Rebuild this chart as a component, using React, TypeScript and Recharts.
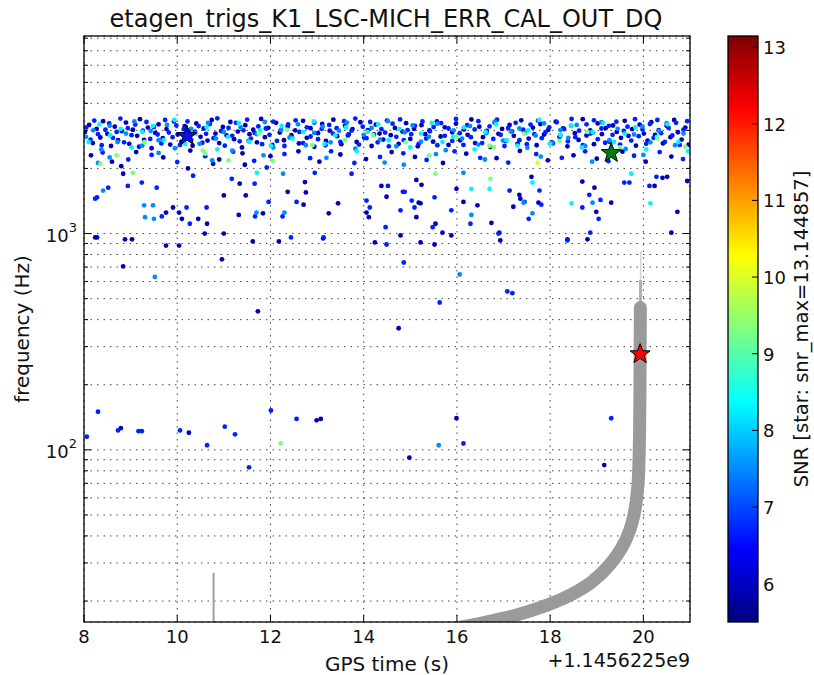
import {
  ComposedChart,
  Scatter,
  Line,
  XAxis,
  YAxis,
  CartesianGrid
} from 'recharts';

const title = 'etagen_trigs_K1_LSC-MICH_ERR_CAL_OUT_DQ';
const xTicks = [8, 10, 12, 14, 16, 18, 20];
const yTicks = [
  20, 30, 40, 50, 60, 70, 80, 90,
  100, 200, 300, 400, 500, 600, 700, 800, 900,
  1000, 2000, 3000, 4000, 5000, 6000, 7000, 8000
];
const yMajor = [100, 1000];
const cbarTicks = [6, 7, 8, 9, 10, 11, 12, 13];
const snrMin = 5.5;
const snrMax = 13.144857;

// snr of each colour group
const snrNavy = 5.9;
const snrBlue = 6.7;
const snrLight = 7.5;
const snrCyan = 8.3;
const snrGreen = 9.3;
const snrYellow = 10.0;

// [gps time offset (s), frequency (Hz)]
const navyPts: [number, number][] = [
  [8.02,2950],[8.11,3180],[8.19,2620],[8.27,3050],[8.35,2780],[8.41,3310],[8.5,2890],[8.58,2540],[8.66,3120],[8.73,2700],
  [8.81,2980],[8.9,3260],[8.97,2600],[9.05,3020],[9.14,2830],[9.2,3380],[9.29,2710],[9.37,3090],[9.45,2480],[9.53,2920],
  [9.6,3200],[9.69,2760],[9.77,3040],[9.85,2580],[9.93,3300],[10.01,2870],[10.09,2660],[10.16,3140],[10.25,2990],[10.33,2550],
  [10.41,3230],[10.5,2800],[10.57,3060],[10.65,2690],[10.74,3350],[10.82,2900],[10.9,2620],[10.98,3110],[11.06,2840],[11.14,3280],
  [11.22,2730],[11.3,2960],[11.39,2500],[11.46,3170],[11.55,2880],[11.63,3020],[11.71,2640],[11.8,3390],[11.88,2790],[11.95,3080],
  [12.04,2570],[12.12,3250],[12.2,2930],[12.29,2700],[12.37,3130],[12.45,2850],[12.53,3000],[12.61,2610],[12.7,3320],[12.78,2770],
  [12.86,3070],[12.94,2520],[13.02,2910],[13.11,3210],[13.19,2680],[13.27,2990],[13.35,3360],[13.43,2820],[13.52,2590],[13.6,3150],
  [13.68,2870],[13.76,3040],[13.85,2650],[13.93,3270],[14.01,2780],[14.09,3010],[14.17,2540],[14.26,3190],[14.34,2900],[14.42,2720],
  [14.5,3330],[14.58,2850],[14.67,3080],[14.75,2600],[14.83,2960],[14.91,3240],[15.0,2740],[15.08,3050],[15.16,2530],[15.24,3170],
  [15.32,2880],[15.41,3000],[15.49,2660],[15.57,3300],[15.65,2810],[15.74,3100],[15.82,2570],[15.9,2940],[15.98,3220],[16.07,2700],
  [16.15,3030],[16.23,2860],[16.31,3370],[16.39,2620],[16.48,3120],[16.56,2790],[16.64,2980],[16.72,2510],[16.81,3260],[16.89,2890],
  [16.97,3050],[17.05,2680],[17.13,3180],[17.22,2830],[17.3,2600],[17.38,3340],[17.46,2920],[17.54,2750],[17.63,3090],[17.71,2560],
  [17.79,3210],[17.87,2870],[17.96,3020],[18.04,2640],[18.12,3290],[18.2,2800],[18.28,3060],[18.37,2530],[18.45,3150],[18.53,2910],
  [18.61,2710],[18.7,3380],[18.78,2840],[18.86,3000],[18.94,2590],[19.02,3230],[19.11,2880],[19.19,3070],[19.27,2660],[19.35,3160],
  [19.43,2950],[19.52,2770],[19.6,3320],[19.68,2830],[19.76,3040],[19.84,2550],[19.92,3190],[20.01,2900],[20.09,2690],[20.17,3270],
  [20.25,2860],[20.33,3010],[20.42,2610],[20.5,3150],[20.58,2790],[20.66,3350],[20.74,2940],[20.82,2720],[20.9,3090],[20.97,2580],
  [8.15,2300],[8.6,2150],[9.12,2380],[9.7,2250],[10.28,2420],[10.9,2200],[11.4,2350],[12.0,2280],[12.6,2400],[13.05,2150],
  [13.5,2320],[14.05,2210],[14.6,2380],[15.1,2260],[15.7,2120],[16.2,2340],[16.85,2230],[17.35,2410],[17.95,2180],[18.5,2300],
  [19.0,2220],[19.55,2390],[20.05,2150],[20.6,2270],
  [8.8,2050],[8.84,1890],[10.04,1250],[10.23,2000],[10.45,1170],[10.64,1110],[10.77,2100],[11.0,1000],[11.34,1700],[11.45,2080],
  [11.47,1500],[11.84,1240],[12.37,1560],[12.74,1730],[12.76,1550],[13.13,950],[13.45,1380],[14.06,1250],[14.38,1660],[15.13,1190],
  [8.24,960],[8.88,940],[9.76,1250],[9.91,1320],[9.76,880],[10.1,1170],[10.59,1000],[11.0,1500],[11.32,1220],[11.62,920],
  [12.71,1360],[13.25,1240],[14.11,1190],[14.24,910],[14.49,1480],[14.79,980],[15.18,1390],[15.22,1380],[15.54,1110],[15.69,1010],
  [16.14,1400],[16.44,1350],[16.93,930],[17.21,1330],[17.34,1510],[17.36,1450],[17.75,1390],[18.99,1260],[15.13,1770],[15.24,1680],
  [15.99,1610],[16.74,1120],[16.91,1010],[17.6,1830],[18.37,940],[18.69,1740],[18.95,1630],[19.31,1390],[20.24,1660],[20.41,1810],
  [20.51,1830],[20.73,1260],[20.6,1010],[20.94,1750],[18.8,940],
  [8.28,960],[9.03,940],[8.84,705],[10.04,880],[10.96,760],[11.73,437],[12.18,920],[14.75,365],[8.79,126],[10.25,120],
  [12.99,137],[13.08,139],[14.98,92],[15.22,910],[15.52,890],[15.88,980],[15.99,140],[19.16,85]
];

const bluePts: [number, number][] = [
  [8.05,3100],[8.14,2720],[8.22,3330],[8.3,2880],[8.38,2560],[8.46,3020],[8.54,3230],[8.62,2770],[8.7,2950],[8.78,3400],
  [8.86,2640],[8.94,3070],[9.02,2850],[9.1,3190],[9.18,2520],[9.26,2990],[9.34,3280],[9.42,2740],[9.5,3110],[9.58,2870],
  [9.66,2610],[9.74,3350],[9.82,2930],[9.9,2790],[9.98,3160],[10.06,2570],[10.14,3040],[10.22,3300],[10.3,2710],[10.38,2960],
  [10.46,3140],[10.54,2630],[10.62,2890],[10.7,3210],[10.78,2760],[10.86,3410],[10.94,2980],[11.02,2550],[11.1,3080],[11.18,2830],
  [11.26,3250],[11.34,2670],[11.42,3000],[11.5,3360],[11.58,2750],[11.66,2920],[11.74,3130],[11.82,2590],[11.9,3060],[11.98,2860],
  [12.06,3290],[12.14,2680],[12.22,3010],[12.3,2540],[12.38,3200],[12.46,2780],[12.54,3340],[12.62,2950],[12.7,2620],[12.78,3100],
  [12.86,2810],[12.94,3260],[13.02,2730],[13.1,3050],[13.18,2560],[13.26,3180],[13.34,2900],[13.42,3070],[13.5,2650],[13.58,3310],
  [13.66,2840],[13.74,2990],[13.82,3400],[13.9,2580],[13.98,3120],[14.06,2760],[14.14,3280],[14.22,2870],[14.3,2640],[14.38,3040],
  [14.46,2930],[14.54,2530],[14.62,3220],[14.7,2800],[14.78,3370],[14.86,2700],[14.94,3010],[15.02,2880],[15.1,3150],[15.18,2600],
  [15.26,3300],[15.34,2750],[15.42,2970],[15.5,3110],[15.58,2560],[15.66,3240],[15.74,2830],[15.82,3060],[15.9,2680],[15.98,3390],
  [16.06,2910],[16.14,2570],[16.22,3170],[16.3,2790],[16.38,3030],[16.46,3310],[16.54,2620],[16.62,2950],[16.7,3130],[16.78,2740],
  [16.86,3360],[16.94,2860],[17.02,2540],[17.1,3080],[17.18,2970],[17.26,3250],[17.34,2700],[17.42,3020],[17.5,2590],[17.58,3190],
  [17.66,2880],[17.74,3330],[17.82,2760],[17.9,2940],[17.98,3100],[18.06,2610],[18.14,3270],[18.22,2850],[18.3,3040],[18.38,2670],
  [18.46,3390],[18.54,2790],[18.62,2990],[18.7,2560],[18.78,3200],[18.86,2900],[18.94,3340],[19.02,2730],[19.1,3060],[19.18,2630],
  [19.26,3150],[19.34,2860],[19.42,3290],[19.5,2580],[19.58,2980],[19.66,3120],[19.74,2690],[19.82,3380],[19.9,2820],[19.98,3030],
  [20.06,2600],[20.14,3210],[20.22,2770],[20.3,3350],[20.38,2910],[20.46,2650],[20.54,3080],[20.62,2840],[20.7,3250],[20.78,2570],
  [20.86,3020],[20.94,3310],
  [8.4,2370],[8.95,2200],[9.45,2310],[10.0,2140],[10.6,2280],[11.2,2390],[11.65,2170],[12.3,2330],[12.85,2230],[13.3,2400],
  [13.8,2120],[14.35,2260],[14.85,2350],[15.35,2190],[15.95,2400],[16.5,2240],[17.1,2130],[17.7,2330],[18.25,2240],[18.75,2400],
  [19.25,2160],[19.8,2290],[20.35,2380],[20.85,2210],
  [8.28,1470],[8.52,1630],[8.94,1660],[9.24,1720],[9.56,1630],[9.67,1200],[10.2,1320],[10.34,1850],[10.63,1320],[11.17,1790],
  [11.66,1700],[11.92,2020],[12.26,1200],[12.56,1400],[12.95,1910],[13.74,1890],[14.52,1660],[14.84,1560],[15.09,1320],[8.24,1450],
  [10.27,1110],[11.67,1200],[11.96,1400],[12.44,960],[14.06,1420],[14.13,1320],[14.47,1070],[14.49,890],[14.79,1280],[16.29,1110],
  [17.54,1170],[18.86,1010],[14.88,1560],[15.03,1420],[15.52,1470],[15.48,1070],[15.88,1280],[17.13,1580],[17.45,1400],[17.77,1580],
  [17.81,1360],[18.69,1320],[18.84,1510],[19.08,1430],[19.04,1170],[19.59,1720],[19.7,1720],[20.13,1660],[20.28,1830],
  [13.14,960],[14.86,735],[16.89,1000],[18.37,930],[15.63,480],[17.08,540],[17.19,530],[16.14,107],[19.31,140],[8.3,150],
  [8.06,115],[8.73,123],[9.17,122],[9.24,122],[10.06,123],[10.64,105],[11.02,128],[11.24,118],[11.54,83],[12.01,152],
  [12.56,139]
];

const lightPts: [number, number][] = [
  [8.04,2800],[8.2,3000],[8.37,2450],[8.55,3150],[8.72,2650],[8.9,2900],[9.08,3300],[9.25,2550],[9.43,2980],[9.6,2700],
  [9.78,3180],[9.95,2480],[10.13,2850],[10.3,3050],[10.48,2600],[10.66,3250],[10.83,2750],[11.0,2950],[11.18,2420],[11.36,3100],
  [11.53,2680],[11.71,2880],[11.88,3280],[12.06,2500],[12.23,3020],[12.41,2780],[12.59,3200],[12.76,2560],[12.94,2920],[13.12,3120],
  [13.29,2640],[13.47,2990],[13.64,3260],[13.82,2470],[14.0,2860],[14.17,3080],[14.35,2720],[14.52,3310],[14.7,2530],[14.88,2940],
  [15.05,3160],[15.23,2660],[15.4,2800],[15.58,3220],[15.76,2430],[15.93,3000],[16.11,2750],[16.28,3140],[16.46,2580],[16.63,2910],
  [16.81,3290],[16.99,2690],[17.16,2960],[17.34,3060],[17.51,2490],[17.69,2840],[17.87,3230],[18.04,2620],[18.22,3010],[18.39,2770],
  [18.57,3180],[18.75,2540],[18.92,2930],[19.1,3270],[19.27,2700],[19.45,3050],[19.62,2460],[19.8,2870],[19.98,3130],[20.15,2640],
  [20.33,2980],[20.5,3240],[20.68,2560],[20.86,2900],
  [8.55,2250],[9.6,2360],[10.75,2180],[11.85,2300],[13.2,2240],[14.45,2130],[15.55,2330],[16.6,2200],[17.8,2270],[18.9,2150],
  [20.0,2310],
  [8.3,2120],[8.41,1580],[9.48,1350],[9.5,1170],[12.27,1890],[12.3,1250],[9.29,1350],[9.31,1190],[11.7,1250],[16.31,1220],
  [17.43,1390],[14.86,2080],[16.14,1910],[17.62,1240],[18.91,1390],[9.52,630],[16.06,647],[15.61,105]
];

const cyanPts: [number, number][] = [
  [8.1,2650],[8.33,3200],[8.56,2850],[8.79,3050],[9.02,2500],[9.25,2950],[9.48,3150],[9.71,2700],[9.94,3350],[10.17,2600],
  [10.4,2900],[10.63,3100],[10.86,2450],[11.09,2800],[11.32,3250],[11.55,2650],[11.78,3000],[12.01,2550],[12.24,3150],[12.47,2750],
  [12.7,2950],[12.93,3300],[13.16,2600],[13.39,2850],[13.62,3100],[13.85,2400],[14.08,2950],[14.31,3200],[14.54,2700],[14.77,3050],
  [15.0,2500],[15.23,2900],[15.46,3250],[15.69,2650],[15.92,2800],[16.15,3100],[16.38,2450],[16.61,2950],[16.84,3200],[17.07,2700],
  [17.3,2550],[17.53,3000],[17.76,3350],[17.99,2600],[18.22,2850],[18.45,3150],[18.68,2500],[18.91,2950],[19.14,3250],[19.37,2650],
  [19.6,2900],[19.83,3100],[20.06,2450],[20.29,2800],[20.52,3200],[20.75,2650],[20.96,2400],
  [11.71,1910],[18.46,1380],[16.31,1610],[16.7,1610],[17.62,1720],[19.74,1890],[20.15,1380]
];

const greenPts: [number, number][] = [
  [8.35,2100],[8.7,2300],[9.3,2650],[10.55,2420],[11.1,2180],[11.75,2900],[12.35,3020],[12.9,2560],[13.6,2700],[14.2,2850],
  [14.9,2640],[15.4,2300],[16.0,2800],[16.7,2550],[17.45,2900],[18.2,2680],[18.8,2950],[19.5,2500],[20.3,2750],[20.9,2520],
  [9.05,1910],[12.05,2170],[15.54,1890],[16.72,1790],[10.6,2340],[16.79,2500],[12.22,107]
];

const yellowPts: [number, number][] = [[17.73, 2120]];

// loudest trigger per channel group
const starBlue = [{ t: 10.21, f: 2830 }];
const starGreen = [{ t: 19.31, f: 2360 }];
const starRed = [{ t: 19.93, f: 277 }];

// injected chirp track
const chirpPts: [number, number][] = [
  [15.6,14.5],[16.2,15.3],[16.8,16.3],[17.3,17.3],[17.8,18.7],[18.2,20.2],[18.6,22.3],[18.9,24.6],[19.15,27.5],[19.35,30.8],
  [19.52,34.8],[19.65,39.5],[19.75,45.5],[19.82,53],[19.87,64],[19.9,80],[19.915,110],[19.925,170],[19.93,280],[19.935,455]
];
const chirpTail: [number, number][] = [[19.935, 455], [19.94, 610]];
const chirpTip: [number, number][] = [[19.94, 610], [19.945, 830]];
const glitchLine: [number, number][] = [[10.78, 15], [10.78, 27]];

const toRows = (arr: [number, number][]) => arr.map(([t, f]) => ({ t, f }));

function jet(snr: number) {
  const v = (snr - snrMin) / (snrMax - snrMin);
  const c = (x: number) => Math.round(255 * Math.max(0, Math.min(1, x)));
  const r = c(1.5 - Math.abs(4 * v - 3));
  const g = c(1.5 - Math.abs(4 * v - 2));
  const b = c(1.5 - Math.abs(4 * v - 1));
  return `rgb(${r},${g},${b})`;
}

const L = 84;
const R = 690;
const T = 36;
const B = 622;
const CB_L = 728;
const CB_R = 758;
const FONT = 'DejaVu Sans, sans-serif';

const dot = (color: string) => (props: any) => (
  <circle cx={props.cx} cy={props.cy} r={2.4} fill={color} />
);

const star = (color: string) => (props: any) => {
  const { cx, cy } = props;
  const pts: string[] = [];
  for (let i = 0; i < 10; i++) {
    const rad = i % 2 === 0 ? 10.5 : 4.3;
    const a = -Math.PI / 2 + (i * Math.PI) / 5;
    pts.push(`${cx + rad * Math.cos(a)},${cy + rad * Math.sin(a)}`);
  }
  return <polygon points={pts.join(' ')} fill={color} stroke="#000" strokeWidth={1} />;
};

function XTick({ x, payload }: any) {
  return (
    <g>
      <line x1={x} x2={x} y1={B} y2={B - 7} stroke="#000" />
      <line x1={x} x2={x} y1={T} y2={T + 7} stroke="#000" />
      <text x={x} y={643} textAnchor="middle" fontSize={18} fontFamily={FONT} fill="#111">
        {payload.value}
      </text>
    </g>
  );
}

function YTick({ y, payload }: any) {
  const v = payload.value;
  const major = yMajor.includes(v);
  const len = major ? 7 : 4;
  return (
    <g>
      <line x1={L} x2={L + len} y1={y} y2={y} stroke="#000" />
      <line x1={R} x2={R - len} y1={y} y2={y} stroke="#000" />
      {major && (
        <text x={77} y={y + 8} textAnchor="end" fontSize={18} fontFamily={FONT} fill="#111">
          10
          <tspan dy={-10} fontSize={13}>{Math.round(Math.log10(v))}</tspan>
        </text>
      )}
    </g>
  );
}

function Overlay() {
  const cbY = (v: number) => B - ((v - snrMin) / (snrMax - snrMin)) * (B - T);
  return (
    <svg
      width={814}
      height={675}
      style={{ position: 'absolute', left: 0, top: 0, pointerEvents: 'none' }}
    >
      <defs>
        <linearGradient id="jet" x1="0" y1="1" x2="0" y2="0">
          <stop offset="0" stopColor="#00007f" />
          <stop offset="0.125" stopColor="#0000ff" />
          <stop offset="0.375" stopColor="#00ffff" />
          <stop offset="0.625" stopColor="#ffff00" />
          <stop offset="0.875" stopColor="#ff0000" />
          <stop offset="1" stopColor="#7f0000" />
        </linearGradient>
      </defs>
      <rect x={L} y={T} width={R - L} height={B - T} fill="none" stroke="#000" strokeWidth={1.3} />
      <text x={386} y={27} textAnchor="middle" fontSize={24} fontFamily={FONT} fill="#111">
        {title}
      </text>
      <text x={387} y={671} textAnchor="middle" fontSize={20} fontFamily={FONT} fill="#111">
        GPS time (s)
      </text>
      <text x={R} y={667} textAnchor="end" fontSize={19} fontFamily={FONT} fill="#111">
        +1.1456225e9
      </text>
      <text
        x={22}
        y={329}
        transform="rotate(-90 22 329)"
        textAnchor="middle"
        dominantBaseline="central"
        fontSize={20}
        fontFamily={FONT}
        fill="#111"
      >
        frequency (Hz)
      </text>
      <rect x={CB_L} y={T} width={CB_R - CB_L} height={B - T} fill="url(#jet)" stroke="#000" strokeWidth={1.3} />
      {cbarTicks.map((v) => (
        <g key={v}>
          <line x1={CB_R} x2={CB_R - 6} y1={cbY(v)} y2={cbY(v)} stroke="#000" />
          <text x={763} y={cbY(v) + 7} fontSize={18} fontFamily={FONT} fill="#111">
            {v}
          </text>
        </g>
      ))}
      <text
        x={801}
        y={329}
        transform="rotate(-90 801 329)"
        textAnchor="middle"
        dominantBaseline="central"
        fontSize={19.5}
        fontFamily={FONT}
        fill="#111"
      >
        SNR [star: snr_max=13.144857]
      </text>
    </svg>
  );
}

export default function App() {
  const groups: [string, [number, number][], number][] = [
    ['navy', navyPts, snrNavy],
    ['blue', bluePts, snrBlue],
    ['light', lightPts, snrLight],
    ['cyan', cyanPts, snrCyan],
    ['green', greenPts, snrGreen],
    ['yellow', yellowPts, snrYellow]
  ];
  return (
    <div style={{ position: 'absolute', left: 0, top: 0, width: 814, height: 675, background: '#fff' }}>
      <ComposedChart
        width={814}
        height={675}
        margin={{ top: T, right: 814 - R, bottom: 23, left: 24 }}
      >
        <CartesianGrid stroke="#444" strokeDasharray="1.5 5" strokeWidth={1} />
        <XAxis
          type="number"
          dataKey="t"
          domain={[8, 21]}
          ticks={xTicks}
          interval={0}
          allowDataOverflow
          axisLine={false}
          tickLine={false}
          tick={<XTick />}
          height={30}
        />
        <YAxis
          type="number"
          dataKey="f"
          scale="log"
          domain={[16, 8192]}
          ticks={yTicks}
          interval={0}
          allowDataOverflow
          axisLine={false}
          tickLine={false}
          tick={<YTick />}
          width={60}
        />
        <Line
          data={toRows(glitchLine)}
          dataKey="f"
          type="linear"
          stroke="#a0a0a0"
          strokeWidth={2}
          dot={false}
          activeDot={false}
          isAnimationActive={false}
        />
        <Line
          data={toRows(chirpTip)}
          dataKey="f"
          type="linear"
          stroke="#d2d2d2"
          strokeWidth={1.5}
          dot={false}
          activeDot={false}
          isAnimationActive={false}
        />
        <Line
          data={toRows(chirpTail)}
          dataKey="f"
          type="linear"
          stroke="#b0b0b0"
          strokeWidth={3}
          dot={false}
          activeDot={false}
          isAnimationActive={false}
        />
        <Line
          data={toRows(chirpPts)}
          dataKey="f"
          type="monotone"
          stroke="#9a9a9a"
          strokeWidth={13}
          strokeLinecap="round"
          dot={false}
          activeDot={false}
          isAnimationActive={false}
        />
        {groups.map(([name, pts, snr]) => (
          <Scatter
            key={name}
            data={toRows(pts)}
            shape={dot(jet(snr))}
            isAnimationActive={false}
          />
        ))}
        <Scatter data={starBlue} shape={star('#0010e8')} isAnimationActive={false} />
        <Scatter data={starGreen} shape={star('#007a10')} isAnimationActive={false} />
        <Scatter data={starRed} shape={star('#ff0000')} isAnimationActive={false} />
      </ComposedChart>
      <Overlay />
    </div>
  );
}
